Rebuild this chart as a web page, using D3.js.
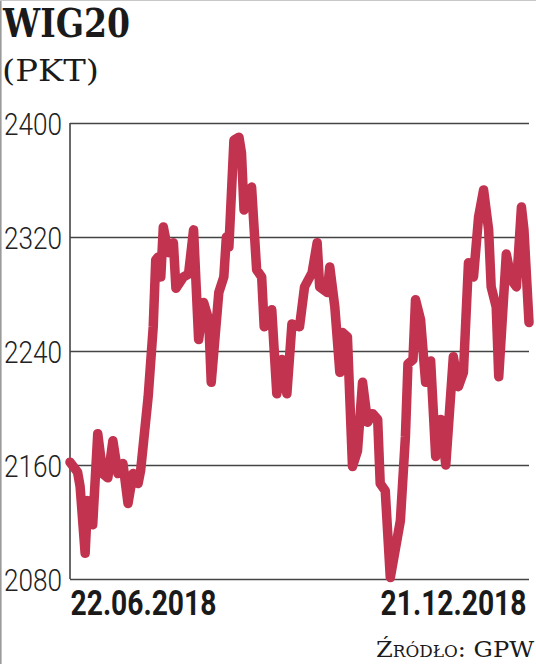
<!DOCTYPE html>
<html lang="pl">
<head>
<meta charset="utf-8">
<title>WIG20</title>
<style>
  body { margin: 0; background: #fff; }
  svg { display: block; }
  .title { font-family: "DejaVu Serif", serif; font-weight: bold; font-size: 40px; fill: #1a1a1a; }
  .unit { font-family: "DejaVu Serif", serif; font-size: 29px; fill: #1a1a1a; }
  .yaxis text { font-family: Roboto, "DejaVu Sans", sans-serif; font-weight: 300; font-size: 32px; fill: #222; }
  .xaxis text { font-family: Roboto, "DejaVu Sans", sans-serif; font-weight: bold; font-size: 36px; fill: #1a1a1a; }
  .grid line, .grid path { stroke: #444; stroke-width: 1.6; }
  .source { font-family: "DejaVu Serif", serif; font-size: 23px; font-variant: small-caps; fill: #1a1a1a; }
</style>
</head>
<body>
<svg id="chart" width="536" height="664"></svg>
<script src="https://d3js.org/d3.v7.min.js"></script>
<script>
// calendar days since 22.06.2018 and WIG20 close (pkt)
var days = [0, 3, 4, 6, 7, 9, 11, 13, 15, 17, 19, 21, 23, 25, 27, 28, 31, 33, 34, 35,
  36, 37, 39, 41, 42, 45, 47, 49, 51, 53, 55, 56, 59, 61, 62, 63, 65, 67, 68, 69,
  72, 74, 76, 77, 80, 82, 84, 86, 88, 91, 93, 96, 98, 99, 102, 103, 105, 107, 108, 110,
  112, 114, 116, 118, 120, 122, 123, 125, 127, 131, 133, 134, 136, 137, 139, 141, 143, 145, 147, 149,
  152, 154, 156, 158, 160, 162, 164, 166, 167, 169, 170, 173, 175, 177, 179, 180, 182];
var values = [2162, 2155, 2145, 2098, 2135, 2118, 2182, 2154, 2151, 2177, 2154, 2161, 2133, 2154, 2147, 2156, 2208, 2257, 2304, 2306,
  2292, 2327, 2309, 2316, 2284, 2292, 2294, 2325, 2248, 2274, 2262, 2218, 2281, 2292, 2320, 2313, 2388, 2390, 2379, 2339,
  2355, 2297, 2292, 2257, 2269, 2210, 2234, 2210, 2259, 2257, 2285, 2295, 2316, 2285, 2281, 2299, 2271, 2225, 2253, 2250,
  2159, 2170, 2218, 2190, 2196, 2192, 2147, 2142, 2081, 2121, 2180, 2231, 2234, 2276, 2262, 2218, 2233, 2166, 2192, 2160,
  2236, 2215, 2225, 2302, 2292, 2334, 2353, 2325, 2285, 2271, 2222, 2308, 2290, 2285, 2341, 2325, 2260];
var yTicks = [2080, 2160, 2240, 2320, 2400];
var startDate = new Date(2018, 5, 22);
var endDate = new Date(2018, 11, 21);

var svg = d3.select('#chart'),
    width = +svg.attr('width'),
    height = +svg.attr('height'),
    padding = {left: 70, right: 7, top: 123, bottom: 85},
    w = width - padding.left - padding.right,
    h = height - padding.top - padding.bottom;

// thin scan border
svg.append('line').attr('x1', 0.8).attr('x2', 0.8).attr('y1', 0).attr('y2', height)
  .attr('stroke', '#9a9a9a').attr('stroke-width', 1.6);
svg.append('line').attr('x1', 0).attr('x2', width).attr('y1', 0.5).attr('y2', 0.5)
  .attr('stroke', '#c8c8c8').attr('stroke-width', 1);

svg.append('text').attr('class', 'title').attr('x', 3).attr('y', 37)
  .attr('textLength', 127).attr('lengthAdjust', 'spacingAndGlyphs').text('WIG20');
svg.append('text').attr('class', 'unit').attr('x', 2).attr('y', 81)
  .attr('textLength', 97).attr('lengthAdjust', 'spacingAndGlyphs').text('(PKT)');

var g = svg.append('g').attr('transform', 'translate(' + padding.left + ',' + padding.top + ')');

var data = days.map(function(d, i) {
  return {date: d3.timeDay.offset(startDate, d), value: values[i]};
});

var x = d3.scaleTime().domain([startDate, endDate]).range([0, w]);
var y = d3.scaleLinear().domain([2080, 2400]).range([h, 0]);

// gridlines + left axis
var yAxis = d3.axisLeft(y).tickValues(yTicks).tickSize(-w).tickPadding(8).tickFormat(d3.format('d'));
var ya = g.append('g').attr('class', 'yaxis grid').call(yAxis);
ya.select('.domain').attr('d', 'M0,' + h + 'V0');
ya.selectAll('text').attr('dy', '0.36em')
  .attr('textLength', 58).attr('lengthAdjust', 'spacingAndGlyphs');

var xAxis = d3.axisBottom(x).tickValues([startDate, endDate]).tickSize(0).tickPadding(9)
  .tickFormat(d3.timeFormat('%d.%m.%Y'));
var xa = g.append('g').attr('class', 'xaxis').attr('transform', 'translate(0,' + h + ')').call(xAxis);
xa.select('.domain').remove();
// squeeze the date labels horizontally (condensed look)
xa.selectAll('text')
  .attr('dy', '0.75em')
  .attr('text-anchor', function(d, i) { return i === 0 ? 'start' : 'end'; })
  .attr('x', function(d, i) { return i === 0 ? 0 : -3; })
  .each(function() {
    var k = 146 / this.getComputedTextLength();
    var t = d3.select(this);
    t.attr('x', +t.attr('x') / k).attr('transform', 'scale(' + k + ',1)');
  });

var line = d3.line()
  .x(function(d) { return x(d.date); })
  .y(function(d) { return y(d.value); });

g.append('path')
  .datum(data)
  .attr('d', line)
  .attr('fill', 'none')
  .attr('stroke', '#c1334f')
  .attr('stroke-width', 9.5)
  .attr('stroke-linejoin', 'round')
  .attr('stroke-linecap', 'round');

svg.append('text').attr('class', 'source')
  .attr('x', width - 2).attr('y', 657).attr('text-anchor', 'end')
  .attr('textLength', 158).attr('lengthAdjust', 'spacingAndGlyphs')
  .text('Źródło: GPW');
</script>
</body>
</html>
